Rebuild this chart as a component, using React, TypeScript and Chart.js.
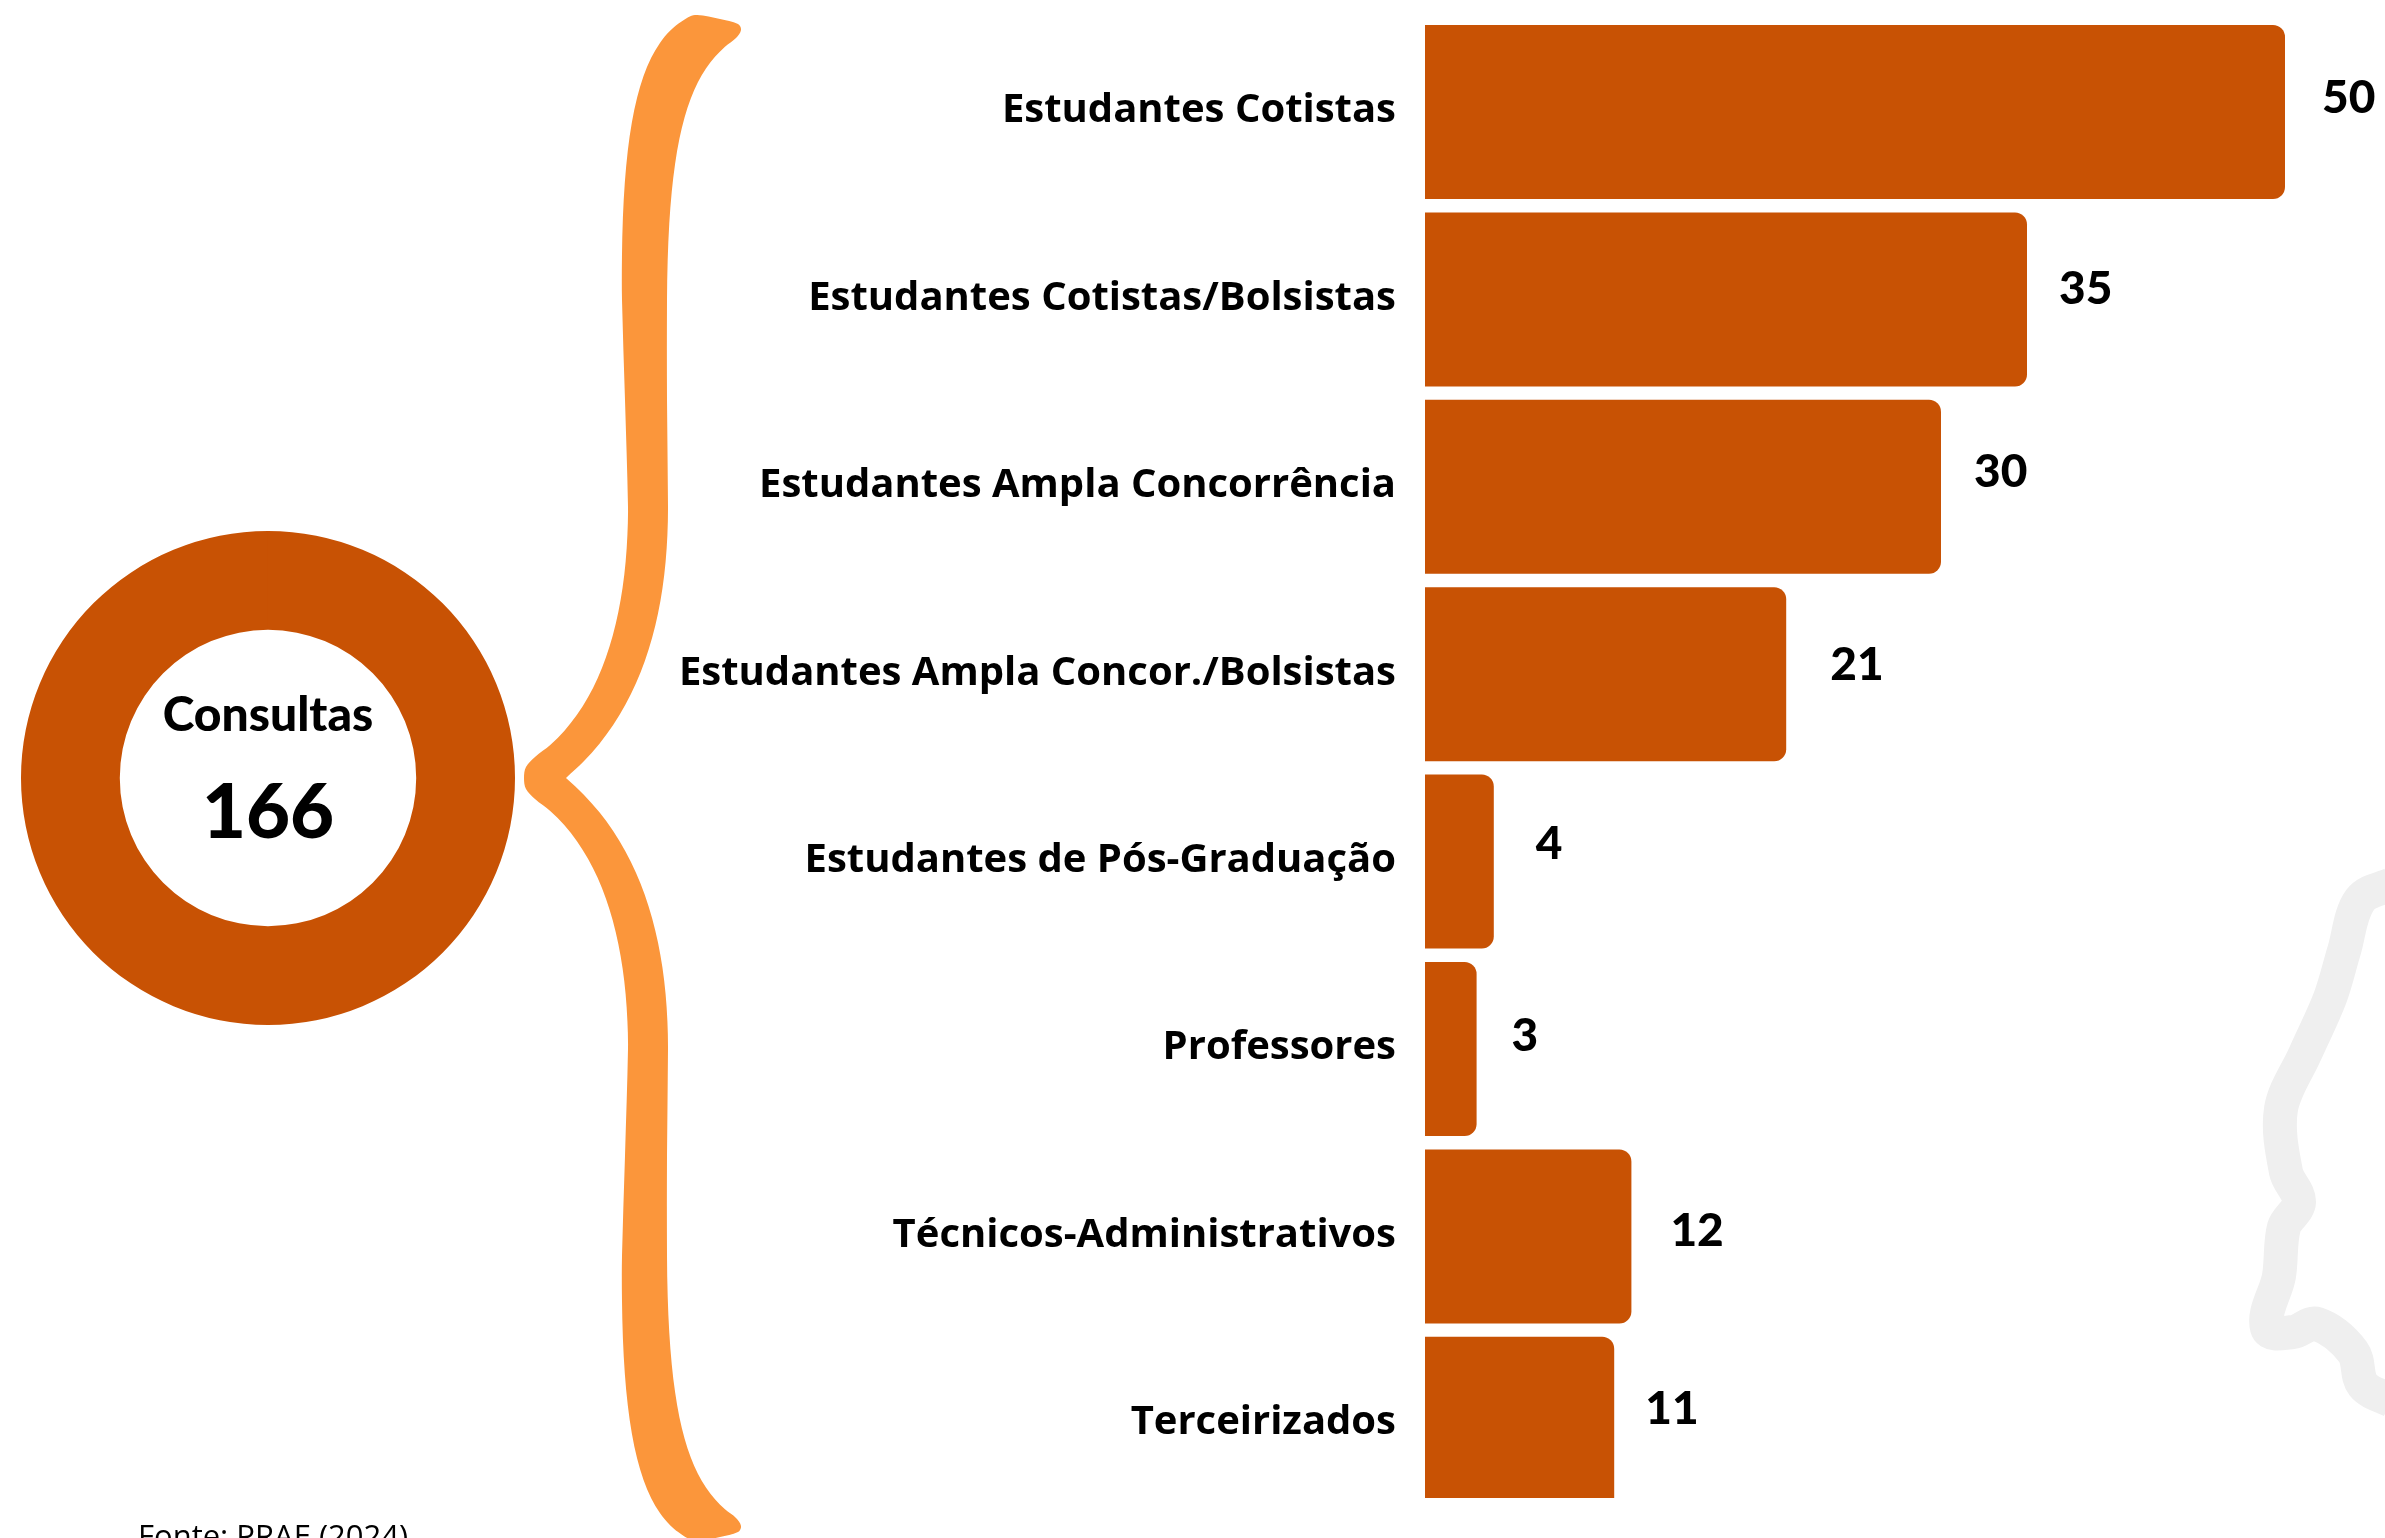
import React, { useEffect, useRef } from "react";
import { Chart, registerables } from "chart.js";

Chart.register(...registerables);

const categories = [
  "Estudantes Cotistas",
  "Estudantes Cotistas/Bolsistas",
  "Estudantes Ampla Concorrência",
  "Estudantes Ampla Concor./Bolsistas",
  "Estudantes de Pós-Graduação",
  "Professores",
  "Técnicos-Administrativos",
  "Terceirizados",
];
const consultas = [50, 35, 30, 21, 4, 3, 12, 11];
const totalLabel = "Consultas";
const totalValue = [166];
const sourceNote = "Fonte: PRAE (2024)";

const DARK = "#C85204";
const BRACE = "#FB963B";
const GHOST = "#EFEFEF";
const nudgeX = [37, 32, 33, 44, 42, 35, 39, 31];
const nudgeY = [-14, -10, -15, -9, -17, -13, -5, -15];

type P = [number, number];

function arc(p0: P, p1: P, p2: P, p3: P): P[] {
  const out: P[] = [];
  for (let k = 0; k <= 12; k++) {
    const t = k / 12, u = 1 - t;
    out.push([
      u * u * u * p0[0] + 3 * u * u * t * p1[0] + 3 * u * t * t * p2[0] + t * t * t * p3[0],
      u * u * u * p0[1] + 3 * u * u * t * p1[1] + 3 * u * t * t * p2[1] + t * t * t * p3[1],
    ]);
  }
  return out;
}

const braceOuter: P[] = [
  [524, 778], [526, 767],
  ...arc([535, 757], [600, 712], [628, 620], [628, 507]),
  [625, 400],
  ...arc([622, 300], [620, 120], [640, 35], [695, 15]),
  [720, 19], [738, 24], [741, 30], [736, 38],
];
const braceInner: P[] = [
  ...arc([736, 38], [690, 70], [668, 130], [667, 300]).slice(1),
  [667, 400],
  ...arc([668, 507], [668, 620], [640, 715], [566, 778]),
];
const ghostLine: P[] = [[2392,884],[2360,900],[2344,951],[2330,998],[2305,1054],[2281,1109],[2286,1172],[2299,1202],[2284,1227],[2279,1276],[2267,1328],[2293,1332],[2317,1324],[2353,1352],[2363,1385],[2392,1401]];

function spline(ctx: CanvasRenderingContext2D, pts: P[]) {
  ctx.moveTo(pts[0][0], pts[0][1]);
  const tangent = (i: number): P => {
    const a = pts[Math.max(i - 1, 0)], c = pts[Math.min(i + 1, pts.length - 1)];
    const dx = c[0] - a[0], dy = c[1] - a[1];
    const len = Math.hypot(dx, dy) || 1;
    return [dx / len, dy / len];
  };
  for (let i = 0; i < pts.length - 1; i++) {
    const b = pts[i], c = pts[i + 1];
    const seg = Math.hypot(c[0] - b[0], c[1] - b[1]) / 3;
    const t0 = tangent(i), t1 = tangent(i + 1);
    ctx.bezierCurveTo(b[0] + t0[0] * seg, b[1] + t0[1] * seg, c[0] - t1[0] * seg, c[1] - t1[1] * seg, c[0], c[1]);
  }
}

const decorPlugin = {
  id: "decor",
  beforeDatasetsDraw(chart: any) {
    const ctx = chart.ctx as CanvasRenderingContext2D;
    ctx.save();
    ctx.strokeStyle = GHOST;
    ctx.lineWidth = 34;
    ctx.lineJoin = "round";
    ctx.beginPath();
    spline(ctx, ghostLine);
    ctx.stroke();

    const upper: P[] = [...braceInner].reverse().concat([...braceOuter].reverse());
    const lower: P[] = [...upper].reverse().map(([x, y]) => [x, 1556 - y] as P);
    ctx.fillStyle = BRACE;
    ctx.beginPath();
    spline(ctx, upper.concat(lower.slice(1)));
    ctx.closePath();
    ctx.fill();

    ctx.fillStyle = "#000";
    ctx.font = "31px 'Open Sans'";
    ctx.textAlign = "left";
    ctx.fillText(sourceNote, 138, 1547);
    ctx.restore();
  },
  afterDatasetsDraw(chart: any) {
    const ctx = chart.ctx as CanvasRenderingContext2D;
    const xs = chart.scales.x, ys = chart.scales.y;
    ctx.save();
    ctx.fillStyle = "#000";
    ctx.font = "900 46px Lato";
    ctx.textAlign = "left";
    ctx.textBaseline = "middle";
    consultas.forEach((v, i) => {
      ctx.fillText(String(v), xs.getPixelForValue(v) + nudgeX[i], ys.getPixelForValue(i) + nudgeY[i]);
    });
    ctx.restore();
  },
};

const centerPlugin = {
  id: "center",
  afterDraw(chart: any) {
    const ctx = chart.ctx as CanvasRenderingContext2D;
    const cx = chart.width / 2;
    ctx.save();
    ctx.fillStyle = "#000";
    ctx.textAlign = "center";
    ctx.font = "900 48px Lato";
    ctx.fillText(totalLabel, cx, 200);
    ctx.font = "900 76px Lato";
    ctx.fillText(String(totalValue[0]), cx, 307);
    ctx.restore();
  },
};

export default function App() {
  const barRef = useRef<HTMLCanvasElement>(null);
  const ringRef = useRef<HTMLCanvasElement>(null);
  useEffect(() => {
    const bar = new Chart(barRef.current!, {
      type: "bar",
      data: {
        labels: categories,
        datasets: [
          {
            data: consultas,
            backgroundColor: DARK,
            barPercentage: 0.9285,
            categoryPercentage: 1,
            borderRadius: { topRight: 12, bottomRight: 12, topLeft: 0, bottomLeft: 0 },
            clip: { left: 0, top: 0, right: 2, bottom: -19.5 },
          } as any,
        ],
      },
      options: {
        indexAxis: "y",
        responsive: false,
        animation: false,
        layout: { padding: { left: 0, top: 18.3, right: 100, bottom: 20.5 } },
        plugins: { legend: { display: false }, tooltip: { enabled: false } },
        scales: {
          x: { display: false, min: 0, max: 50 },
          y: {
            grid: { display: false, drawTicks: false },
            border: { display: false },
            afterFit: (s: any) => {
              s.width = 1425;
              s.paddingTop = 0;
              s.paddingBottom = 0;
            },
            ticks: {
              color: "#000",
              padding: 29,
              labelOffset: -1,
              autoSkip: false,
              font: { family: "'Open Sans'", weight: "bold", size: 40 },
            },
          },
        },
      } as any,
      plugins: [decorPlugin],
    });
    const ring = new Chart(ringRef.current!, {
      type: "doughnut",
      data: {
        labels: [totalLabel],
        datasets: [{ data: totalValue, backgroundColor: DARK, borderWidth: 0 }],
      },
      options: {
        responsive: false,
        animation: false,
        cutout: "60%",
        plugins: { legend: { display: false }, tooltip: { enabled: false } },
      } as any,
      plugins: [centerPlugin],
    });
    return () => {
      bar.destroy();
      ring.destroy();
    };
  }, []);
  return (
    <div style={{ position: "absolute", left: 0, top: 0, width: 2385, height: 1538, overflow: "hidden", background: "#fff" }}>
      <canvas ref={barRef} width={2385} height={1538} style={{ position: "absolute", left: 0, top: 0, display: "block" }} />
      <canvas ref={ringRef} width={494} height={494} style={{ position: "absolute", left: 21, top: 531, display: "block" }} />
    </div>
  );
}
